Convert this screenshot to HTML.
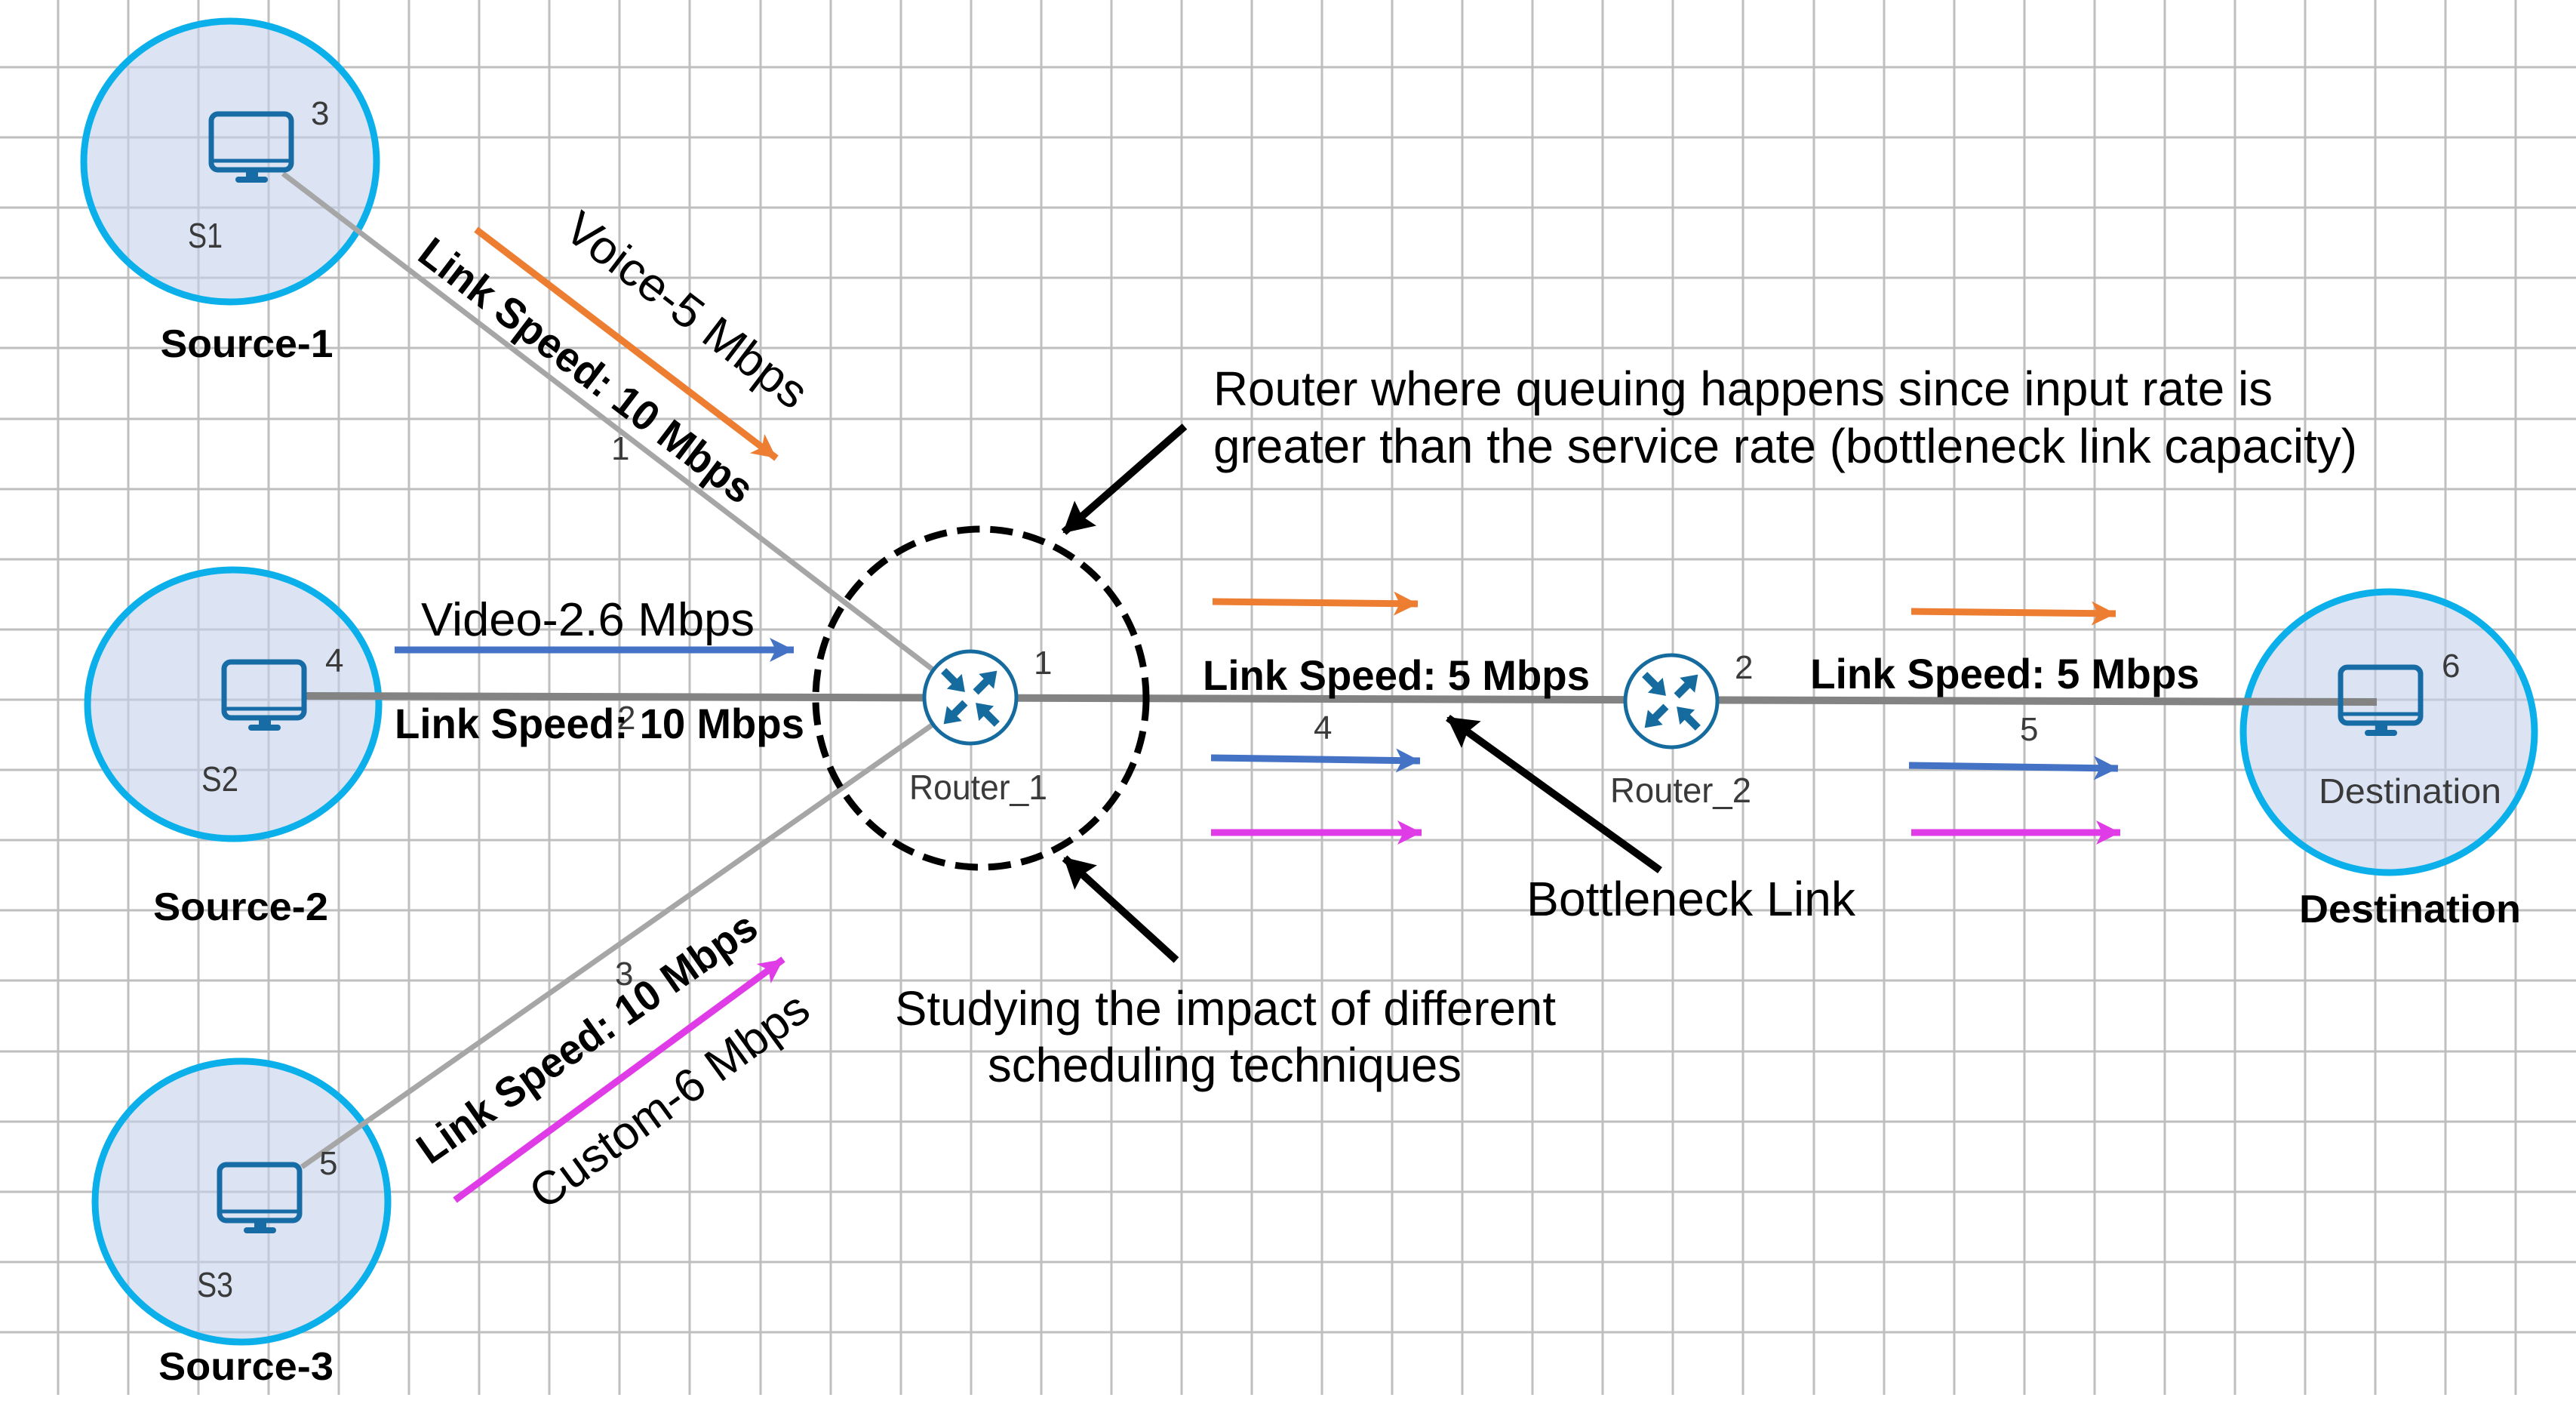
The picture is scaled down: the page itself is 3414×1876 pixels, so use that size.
<!DOCTYPE html>
<html><head><meta charset="utf-8">
<style>
html,body{margin:0;padding:0;background:#fff;}
svg{display:block;}
text{font-family:"Liberation Sans",sans-serif;}
</style></head>
<body>
<svg width="3414" height="1876" viewBox="0 0 3414 1876" xmlns="http://www.w3.org/2000/svg">
<defs>
<g id="mon">
  <rect x="-53" y="3" width="106" height="74" rx="9" fill="none" stroke="#176ca6" stroke-width="7"/>
  <line x1="-53" y1="65" x2="53" y2="65" stroke="#176ca6" stroke-width="5"/>
  <rect x="-7" y="79" width="16" height="9" fill="#176ca6"/>
  <rect x="-21" y="86" width="43" height="8" rx="4" fill="#176ca6"/>
</g>
<g id="rtr">
  <circle cx="0" cy="0" r="61" fill="#fff" stroke="#156b9e" stroke-width="5"/>
  <g transform="rotate(-45)"><path d="M10,-5 L30,-5 L30,-14 L50,0 L30,14 L30,5 L10,5 Z" fill="#156b9e"/></g>
  <g transform="rotate(135)"><path d="M10,-5 L30,-5 L30,-14 L50,0 L30,14 L30,5 L10,5 Z" fill="#156b9e"/></g>
  <g transform="rotate(-135)"><path d="M50,-5 L30,-5 L30,-14 L10,0 L30,14 L30,5 L50,5 Z" fill="#156b9e"/></g>
  <g transform="rotate(45)"><path d="M50,-5 L30,-5 L30,-14 L10,0 L30,14 L30,5 L50,5 Z" fill="#156b9e"/></g>
</g>
<marker id="ho" markerUnits="userSpaceOnUse" markerWidth="40" markerHeight="40" refX="32" refY="16" orient="auto"><path d="M0,0 L32,16 L0,32 L8,16 Z" fill="#ed7d31"/></marker>
<marker id="hb" markerUnits="userSpaceOnUse" markerWidth="40" markerHeight="40" refX="32" refY="16" orient="auto"><path d="M0,0 L32,16 L0,32 L8,16 Z" fill="#4472c4"/></marker>
<marker id="hm" markerUnits="userSpaceOnUse" markerWidth="40" markerHeight="40" refX="32" refY="16" orient="auto"><path d="M0,0 L32,16 L0,32 L8,16 Z" fill="#df3be6"/></marker>
<marker id="hk" markerUnits="userSpaceOnUse" markerWidth="50" markerHeight="50" refX="38" refY="22" orient="auto"><path d="M0,0 L40,22 L0,44 L6,22 Z" fill="#000"/></marker>
</defs>

<g stroke="#bfbfbf" stroke-width="3">
  <line x1="77" y1="0" x2="77" y2="1848"/><line x1="170" y1="0" x2="170" y2="1848"/><line x1="263" y1="0" x2="263" y2="1848"/><line x1="356" y1="0" x2="356" y2="1848"/><line x1="449" y1="0" x2="449" y2="1848"/><line x1="542" y1="0" x2="542" y2="1848"/><line x1="635" y1="0" x2="635" y2="1848"/><line x1="728" y1="0" x2="728" y2="1848"/><line x1="821" y1="0" x2="821" y2="1848"/><line x1="914" y1="0" x2="914" y2="1848"/><line x1="1008" y1="0" x2="1008" y2="1848"/><line x1="1101" y1="0" x2="1101" y2="1848"/><line x1="1194" y1="0" x2="1194" y2="1848"/><line x1="1287" y1="0" x2="1287" y2="1848"/><line x1="1380" y1="0" x2="1380" y2="1848"/><line x1="1473" y1="0" x2="1473" y2="1848"/><line x1="1566" y1="0" x2="1566" y2="1848"/><line x1="1659" y1="0" x2="1659" y2="1848"/><line x1="1752" y1="0" x2="1752" y2="1848"/><line x1="1845" y1="0" x2="1845" y2="1848"/><line x1="1938" y1="0" x2="1938" y2="1848"/><line x1="2031" y1="0" x2="2031" y2="1848"/><line x1="2124" y1="0" x2="2124" y2="1848"/><line x1="2217" y1="0" x2="2217" y2="1848"/><line x1="2310" y1="0" x2="2310" y2="1848"/><line x1="2404" y1="0" x2="2404" y2="1848"/><line x1="2497" y1="0" x2="2497" y2="1848"/><line x1="2590" y1="0" x2="2590" y2="1848"/><line x1="2683" y1="0" x2="2683" y2="1848"/><line x1="2776" y1="0" x2="2776" y2="1848"/><line x1="2869" y1="0" x2="2869" y2="1848"/><line x1="2962" y1="0" x2="2962" y2="1848"/><line x1="3055" y1="0" x2="3055" y2="1848"/><line x1="3148" y1="0" x2="3148" y2="1848"/><line x1="3241" y1="0" x2="3241" y2="1848"/><line x1="3334" y1="0" x2="3334" y2="1848"/>
  <line x1="0" y1="89" x2="3414" y2="89"/><line x1="0" y1="182" x2="3414" y2="182"/><line x1="0" y1="275" x2="3414" y2="275"/><line x1="0" y1="368" x2="3414" y2="368"/><line x1="0" y1="461" x2="3414" y2="461"/><line x1="0" y1="555" x2="3414" y2="555"/><line x1="0" y1="648" x2="3414" y2="648"/><line x1="0" y1="741" x2="3414" y2="741"/><line x1="0" y1="834" x2="3414" y2="834"/><line x1="0" y1="927" x2="3414" y2="927"/><line x1="0" y1="1020" x2="3414" y2="1020"/><line x1="0" y1="1113" x2="3414" y2="1113"/><line x1="0" y1="1206" x2="3414" y2="1206"/><line x1="0" y1="1299" x2="3414" y2="1299"/><line x1="0" y1="1393" x2="3414" y2="1393"/><line x1="0" y1="1486" x2="3414" y2="1486"/><line x1="0" y1="1579" x2="3414" y2="1579"/><line x1="0" y1="1672" x2="3414" y2="1672"/><line x1="0" y1="1765" x2="3414" y2="1765"/>
</g>

<g fill="#c4d2ec" fill-opacity="0.6" stroke="#0bafea" stroke-width="9">
  <ellipse cx="305" cy="214" rx="194" ry="186"/>
  <ellipse cx="309" cy="933" rx="193" ry="178"/>
  <ellipse cx="320" cy="1592" rx="194" ry="186"/>
  <ellipse cx="3166" cy="970" rx="193" ry="186"/>
</g>

<g stroke="#a6a6a6" stroke-width="7" fill="none">
  <line x1="375" y1="230" x2="1286" y2="925"/>
  <line x1="400" y1="1546" x2="1286" y2="925"/>
</g>
<line x1="405" y1="922" x2="3150" y2="930" stroke="#838383" stroke-width="10"/>

<use href="#mon" x="333" y="148"/>
<use href="#mon" x="350" y="874"/>
<use href="#mon" x="344" y="1540"/>
<use href="#mon" x="3155" y="881"/>

<use href="#rtr" x="1286" y="924"/>
<use href="#rtr" x="2215" y="929"/>

<ellipse cx="1300" cy="925" rx="219" ry="224" fill="none" stroke="#000" stroke-width="9" stroke-dasharray="30 14"/>

<g stroke-width="9" fill="none">
  <line x1="631" y1="304" x2="1029" y2="607" stroke="#ed7d31" marker-end="url(#ho)"/>
  <line x1="523" y1="861" x2="1052" y2="861" stroke="#4472c4" marker-end="url(#hb)"/>
  <line x1="603" y1="1590" x2="1038" y2="1271" stroke="#df3be6" marker-end="url(#hm)"/>
  <line x1="1607" y1="797" x2="1879" y2="800" stroke="#ed7d31" marker-end="url(#ho)"/>
  <line x1="1605" y1="1004" x2="1882" y2="1008" stroke="#4472c4" marker-end="url(#hb)"/>
  <line x1="1605" y1="1103" x2="1884" y2="1103" stroke="#df3be6" marker-end="url(#hm)"/>
  <line x1="2533" y1="810" x2="2804" y2="813" stroke="#ed7d31" marker-end="url(#ho)"/>
  <line x1="2530" y1="1014" x2="2807" y2="1018" stroke="#4472c4" marker-end="url(#hb)"/>
  <line x1="2533" y1="1103" x2="2810" y2="1103" stroke="#df3be6" marker-end="url(#hm)"/>
</g>

<g stroke="#000" stroke-width="10" fill="none">
  <line x1="1570" y1="565" x2="1410" y2="705" marker-end="url(#hk)"/>
  <line x1="1559" y1="1272" x2="1411" y2="1137" marker-end="url(#hk)"/>
  <line x1="2200" y1="1153" x2="1919" y2="951" marker-end="url(#hk)"/>
</g>

<g font-weight="bold" font-size="52" fill="#000" text-anchor="middle">
  <text x="327" y="473" textLength="229" lengthAdjust="spacingAndGlyphs">Source-1</text>
  <text x="319" y="1219" textLength="232" lengthAdjust="spacingAndGlyphs">Source-2</text>
  <text x="326" y="1828" textLength="232" lengthAdjust="spacingAndGlyphs">Source-3</text>
  <text x="3194" y="1222" textLength="294" lengthAdjust="spacingAndGlyphs">Destination</text>
</g>

<g fill="#3a3a3a" font-size="46">
  <text x="249" y="328" textLength="46" lengthAdjust="spacingAndGlyphs">S1</text>
  <text x="267" y="1048" textLength="49" lengthAdjust="spacingAndGlyphs">S2</text>
  <text x="261" y="1718" textLength="48" lengthAdjust="spacingAndGlyphs">S3</text>
  <text x="3073" y="1064" textLength="242" lengthAdjust="spacingAndGlyphs">Destination</text>
  <text x="1205" y="1059" textLength="183" lengthAdjust="spacingAndGlyphs">Router_1</text>
  <text x="2134" y="1063" textLength="187" lengthAdjust="spacingAndGlyphs">Router_2</text>
</g>
<g fill="#3a3a3a" font-size="44">
  <text x="412" y="165">3</text>
  <text x="431" y="890">4</text>
  <text x="423" y="1556">5</text>
  <text x="3236" y="897">6</text>
  <text x="1370" y="893">1</text>
  <text x="2299" y="899">2</text>
  <text x="1741" y="979">4</text>
  <text x="2677" y="981">5</text>
  <text x="810" y="609">1</text>
  <text x="818" y="966">2</text>
  <text x="815" y="1305">3</text>
</g>

<g font-weight="bold" font-size="56" fill="#000">
  <text x="1594" y="914" textLength="513" lengthAdjust="spacingAndGlyphs">Link Speed: 5 Mbps</text>
  <text x="2399" y="912" textLength="516" lengthAdjust="spacingAndGlyphs">Link Speed: 5 Mbps</text>
  <text x="523" y="978" textLength="543" lengthAdjust="spacingAndGlyphs">Link Speed: 10 Mbps</text>
  <text x="0" y="0" dy="19" text-anchor="middle" transform="translate(777,491) rotate(37.3)" textLength="540" lengthAdjust="spacingAndGlyphs">Link Speed: 10 Mbps</text>
  <text x="0" y="0" dy="19" text-anchor="middle" transform="translate(778,1375) rotate(-35)" textLength="535" lengthAdjust="spacingAndGlyphs">Link Speed: 10 Mbps</text>
</g>
<g font-size="62" fill="#000">
  <text x="558" y="842" textLength="442" lengthAdjust="spacingAndGlyphs">Video-2.6 Mbps</text>
  <text x="0" y="0" dy="21" text-anchor="middle" transform="translate(910,411) rotate(37.3)" textLength="385" lengthAdjust="spacingAndGlyphs">Voice-5 Mbps</text>
  <text x="0" y="0" dy="21" text-anchor="middle" transform="translate(887,1458) rotate(-36)" textLength="440" lengthAdjust="spacingAndGlyphs">Custom-6 Mbps</text>
</g>

<g font-size="64" fill="#000">
  <text x="1608" y="537" textLength="1404" lengthAdjust="spacingAndGlyphs">Router where queuing happens since input rate is</text>
  <text x="1608" y="613" textLength="1516" lengthAdjust="spacingAndGlyphs">greater than the service rate (bottleneck link capacity)</text>
  <text x="1186" y="1358" textLength="876" lengthAdjust="spacingAndGlyphs">Studying the impact of different</text>
  <text x="1309" y="1433" textLength="628" lengthAdjust="spacingAndGlyphs">scheduling techniques</text>
  <text x="2023" y="1213" textLength="436" lengthAdjust="spacingAndGlyphs">Bottleneck Link</text>
</g>
</svg>
</body></html>
